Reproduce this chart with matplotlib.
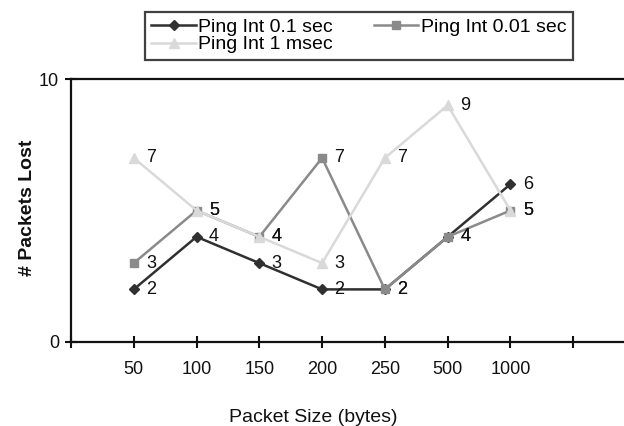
import matplotlib
matplotlib.use("Agg")
import matplotlib.pyplot as plt
import numpy as np

plt.rcParams['font.family'] = ['Liberation Sans', 'DejaVu Sans']

categories = ["50", "100", "150", "200", "250", "500", "1000"]
s_01 = [2, 4, 3, 2, 2, 4, 6]
s_001 = [3, 5, 4, 7, 2, 4, 5]
s_1m = [7, 5, 4, 3, 7, 9, 5]
series_names = ["Ping Int 0.1 sec", "Ping Int 0.01 sec", "Ping Int 1 msec"]

fig = plt.figure(figsize=(6.24, 4.26), dpi=100)
ax = fig.add_axes([71/624, 1-342/426, 565/624, (342-79)/426])

x = np.arange(1, len(categories) + 1)
styles = [
    (s_01, '#303030', 'D', 5.5),
    (s_001, '#8a8a8a', 's', 6),
    (s_1m, '#d9d9d9', '^', 7),
]
handles = []
for (vals, col, mk, ms), name in zip(styles, series_names):
    h, = ax.plot(x, vals, color=col, marker=mk, markersize=ms, linewidth=1.8,
                 markeredgecolor=col, label=name)
    handles.append(h)

for vals, col, mk, ms in styles[::-1]:
    for xi, v in zip(x, vals):
        ax.annotate(str(v), (xi, v), xytext=(9, 0), textcoords='offset points',
                    ha='left', va='center', fontsize=13, color='#111111')

ax.set_xlim(0, 9)
ax.set_ylim(0, 10)
ax.set_xticks(np.arange(0, 10))
ax.set_xticklabels([''] + categories + ['', ''])
ax.set_yticks([0, 10])
ax.set_yticklabels(['0', '10'])
ax.tick_params(axis='x', direction='inout', length=9, width=1.5, pad=9, labelsize=13, colors='#111111')
ax.tick_params(axis='y', direction='inout', length=9, width=1.5, pad=4, labelsize=13, colors='#111111')
for sp in ax.spines.values():
    sp.set_linewidth(1.6)
    sp.set_color('#111111')

ax.set_xlabel("Packet Size (bytes)", fontsize=14, color='#111111', va='center')
ax.xaxis.set_label_coords((313-71)/565, -(417-342)/263)
ax.set_ylabel("# Packets Lost", fontsize=14, fontweight='bold', color='#111111', va='center')
ax.yaxis.set_label_coords(-(71-28)/565, (342-208)/263)

leg_handles = [handles[0], handles[2], handles[1]]
leg = fig.legend(handles=leg_handles, loc='upper left', bbox_to_anchor=(145/624, 1-12/426),
                 ncol=2, fontsize=14, frameon=True, fancybox=False, edgecolor='#111111',
                 handlelength=2.3, handletextpad=0.12, columnspacing=2.1,
                 borderpad=0.32, labelspacing=0.0, borderaxespad=0)
leg.get_frame().set_linewidth(1.6)

fig.savefig("out.png", dpi=100)
